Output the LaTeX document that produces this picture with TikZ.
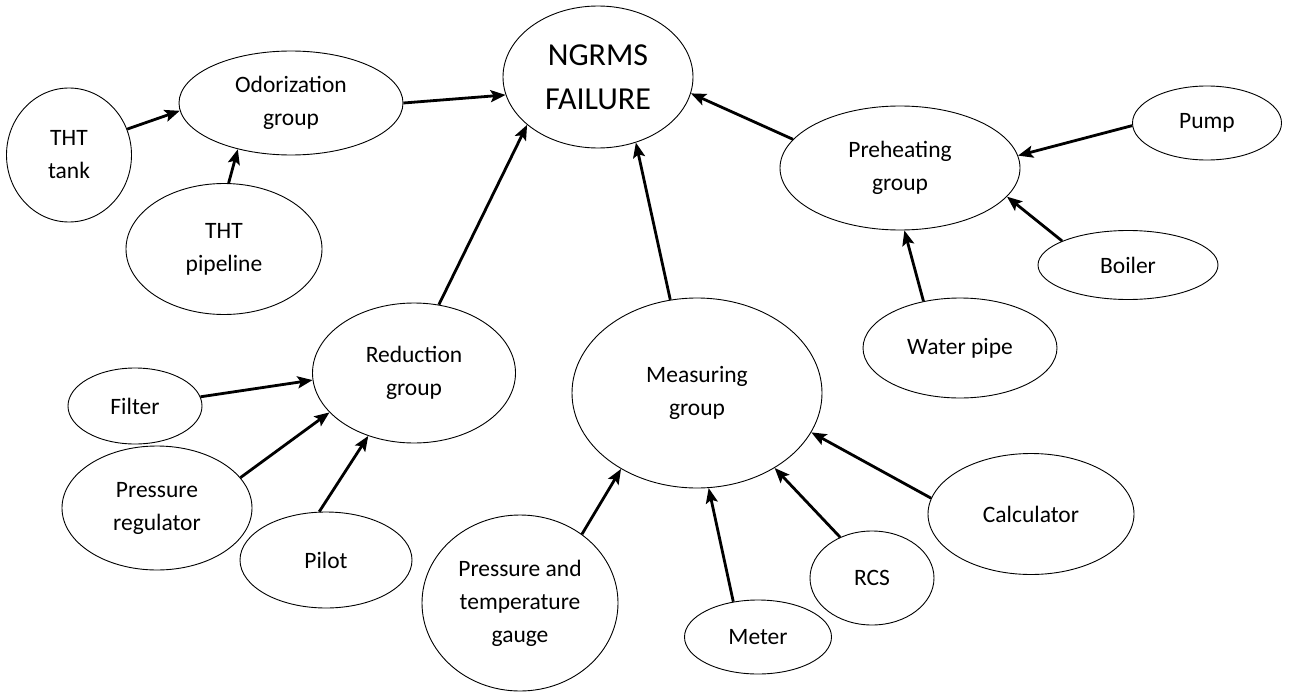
\documentclass[tikz,border=0pt]{standalone}
\usepackage{fontspec}
\setmainfont{Carlito}
\usetikzlibrary{shapes.geometric,arrows.meta}
\tikzset{
  ell/.style={draw, ellipse, line width=0.9pt, inner sep=0pt, align=center,
    font=\fontsize{23.5}{33}\selectfont},
  big/.style={font=\fontsize{32}{44}\selectfont},
  arr/.style={line width=2.8pt, -{Stealth[length=15pt,width=12pt,inset=3pt]}}
}
\newcommand{\ellnode}[6]{\node[ell,#6,minimum width=#4pt,minimum height=#5pt] (#1) at (#2,#3)}
\begin{document}
\begin{tikzpicture}[x=1pt,y=-1pt]
\useasboundingbox (0,0) rectangle (1293,693);
\ellnode{ngrms}{598}{77}{190}{142}{big}{NGRMS\\FAILURE};
\ellnode{odor}{291}{103}{224}{104}{}{Odorization\\group};
\ellnode{tank}{69}{155}{125}{134}{}{THT\\tank};
\ellnode{pipe}{224}{249}{196}{131}{}{THT\\pipeline};
\ellnode{pre}{900}{168}{240}{124}{}{Preheating\\group};
\ellnode{pump}{1207}{123}{149}{74}{}{Pump};
\ellnode{boil}{1128}{265}{180}{69}{}{Boiler};
\ellnode{water}{960}{348}{194}{100}{}{Water pipe};
\ellnode{red}{414}{373}{203}{140}{}{Reduction\\group};
\ellnode{filt}{135}{406}{134}{76}{}{Filter};
\ellnode{preg}{157}{508}{190}{124}{}{Pressure\\regulator};
\ellnode{pilot}{326}{560}{172}{96}{}{Pilot};
\ellnode{meas}{697}{393}{250}{190}{}{Measuring\\group};
\ellnode{ptg}{520}{603}{196}{176}{}{Pressure and\\temperature\\gauge};
\ellnode{meter}{758}{637}{147}{74}{}{Meter};
\ellnode{rcs}{872}{578}{124}{94}{}{RCS};
\ellnode{calc}{1031}{514}{206}{121}{}{Calculator};

\draw[arr] (tank.24) -- (odor.184);
\draw[arr] (pipe.86) -- (odor.221);
\draw[arr] (odor.0) -- (ngrms.191);
\draw[arr] (red.70) -- (ngrms.214);
\draw[arr] (meas.106) -- (ngrms.300);
\draw[arr] (pre.165) -- (ngrms.350);
\draw[arr] (pump.182) -- (pre.6);
\draw[arr] (boil.160) -- (pre.345);
\draw[arr] (water.128) -- (pre.274);
\draw[arr] (filt.8) -- (red.184);
\draw[arr] (preg.20) -- (red.205);
\draw[arr] (pilot.98) -- (red.234);
\draw[arr] (ptg.48) -- (meas.225);
\draw[arr] (meter.125) -- (meas.277);
\draw[arr] (rcs.128) -- (meas.316);
\draw[arr] (calc.171) -- (meas.341);
\end{tikzpicture}
\end{document}
